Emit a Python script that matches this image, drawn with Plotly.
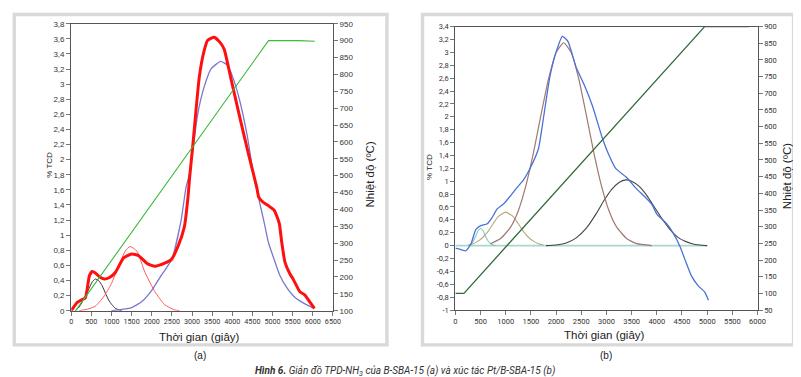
import plotly.graph_objects as go

W, H = 801, 377

# ---------------- Panel (a) data ----------------
a_red_t = [0, 150, 250, 350, 400, 450, 520, 600, 700, 820, 950, 1100, 1300, 1500, 1670, 1900, 2080, 2320, 2490,
           2650, 2810, 2900, 2940, 3020, 3180, 3300, 3390, 3550, 3700, 3800, 3960, 4200, 4410, 4610, 4660, 4780,
           4900, 5040, 5100, 5170, 5230, 5310, 5430, 5510, 5680, 5800, 5920, 6040]
a_red_v = [0, 0.11, 0.14, 0.17, 0.30, 0.46, 0.52, 0.50, 0.45, 0.42, 0.44, 0.51, 0.70, 0.75, 0.73, 0.62, 0.59, 0.63, 0.68,
           0.85, 1.11, 1.50, 1.76, 2.19, 3.09, 3.44, 3.58, 3.62, 3.55, 3.46, 3.09, 2.53, 2.06, 1.63, 1.50, 1.43,
           1.39, 1.33, 1.26, 1.15, 0.90, 0.64, 0.49, 0.42, 0.25, 0.21, 0.12, 0.03]

a_blue_t = [1000, 1180, 1500, 1750, 2000, 2240, 2500, 2730, 2850, 2940, 3060, 3140, 3300, 3470, 3710, 3880, 4040,
            4200, 4370, 4530, 4650, 4780, 4900, 5040, 5180, 5350, 5590, 5840, 6040]
a_blue_v = [0, 0.01, 0.04, 0.12, 0.27, 0.47, 0.68, 1.20, 1.63, 1.82, 2.28, 2.60, 2.96, 3.20, 3.30, 3.25, 3.05,
            2.75, 2.32, 1.80, 1.50, 1.20, 0.90, 0.68, 0.47, 0.31, 0.16, 0.08, 0.03]

a_pk2_t = [200, 400, 600, 800, 930, 1000, 1180, 1340, 1460, 1630, 1830, 2080, 2320, 2570, 2690]
a_pk2_v = [0, 0.02, 0.06, 0.18, 0.29, 0.36, 0.59, 0.79, 0.85, 0.79, 0.51, 0.25, 0.08, 0.01, 0]

a_pk1_t = [100, 200, 320, 440, 520, 600, 680, 770, 850, 930, 1010, 1100, 1250]
a_pk1_v = [0, 0.05, 0.16, 0.29, 0.38, 0.42, 0.40, 0.33, 0.23, 0.14, 0.08, 0.03, 0]

a_temp_t = [110, 4900, 5650, 6050]
a_temp_v = [100, 900, 900, 898]

# ---------------- Panel (b) data ----------------
b_blue_t = [0, 100, 210, 307, 405, 503, 634, 732, 830, 961, 1092, 1222, 1353, 1484, 1648, 1745, 1876, 2006, 2124,
            2235, 2398, 2562, 2726, 2922, 3053, 3183, 3412, 3575, 3771, 3902, 4000, 4196, 4328, 4458, 4556, 4687,
            4818, 4949, 5026]
b_blue_v = [-0.04, -0.06, -0.08, 0.02, 0.25, 0.31, 0.34, 0.44, 0.57, 0.65, 0.77, 0.90, 1.02, 1.20, 1.50, 1.96, 2.62,
            3.02, 3.25, 3.17, 2.77, 2.49, 2.16, 1.66, 1.40, 1.20, 1.05, 0.90, 0.75, 0.64, 0.49, 0.34, 0.19, -0.01,
            -0.21, -0.47, -0.62, -0.72, -0.85]

b_brown_t = [700, 900, 1100, 1250, 1400, 1550, 1700, 1850, 2000, 2150, 2300, 2450, 2600, 2750, 2900, 3050, 3200,
             3400, 3600, 3900]
b_brown_v = [0.03, 0.11, 0.29, 0.54, 0.93, 1.44, 2.03, 2.59, 3.00, 3.15, 3.00, 2.59, 2.03, 1.44, 0.93, 0.54, 0.29,
             0.11, 0.03, 0.0]

b_tan_t = [250, 350, 450, 550, 650, 750, 850, 1000, 1150, 1250, 1350, 1450, 1550, 1650, 1750]
b_tan_v = [0.01, 0.03, 0.07, 0.13, 0.22, 0.34, 0.45, 0.52, 0.45, 0.34, 0.22, 0.13, 0.07, 0.03, 0.01]

b_teal_t = [250, 330, 400, 450, 500, 550, 600, 670, 750, 800]
b_teal_v = [0.0, 0.04, 0.14, 0.23, 0.27, 0.23, 0.14, 0.05, 0.01, 0.0]

b_gray_t = [1800, 2000, 2200, 2400, 2600, 2800, 2950, 3100, 3250, 3380, 3500, 3650, 3800, 3950, 4100, 4250, 4400,
            4550, 4700, 4850, 5000]
b_gray_v = [0, 0.01, 0.04, 0.12, 0.27, 0.50, 0.70, 0.87, 0.98, 1.02, 1.00, 0.92, 0.78, 0.60, 0.42, 0.26, 0.14,
            0.07, 0.03, 0.01, 0.0]

b_base_t = [0, 5000]
b_base_v = [0, 0]

b_temp_t = [0, 170, 4950, 5830]
b_temp_v = [100, 100, 900, 900]

# ---------------- Tick labels ----------------
a_x_ticks = list(range(0, 6501, 500))
a_x_text = [str(v) for v in a_x_ticks]
a_y_ticks = [round(i * 0.2, 1) for i in range(0, 20)]
a_y_text = [("%g" % v).replace(".", ",") for v in a_y_ticks]
a_y2_ticks = list(range(100, 951, 50))
a_y2_text = [str(v) for v in a_y2_ticks]

b_x_ticks = list(range(0, 6001, 500))
b_x_text = [str(v) for v in b_x_ticks]
b_y_ticks = [round(-1 + i * 0.2, 1) for i in range(0, 23)]
b_y_text = [("%g" % v).replace(".", ",") for v in b_y_ticks]
b_y2_ticks = list(range(50, 901, 50))
b_y2_text = [str(v) for v in b_y2_ticks]

NARROW = "Liberation Sans Narrow, Roboto, sans-serif"
SANS = "Liberation Sans, Arial, sans-serif"

fig = go.Figure()

def add(t, v, color, width, xa, ya, shape="spline"):
    fig.add_trace(go.Scatter(x=t, y=v, mode="lines", xaxis=xa, yaxis=ya,
                             line=dict(color=color, width=width, shape=shape, smoothing=0.5),
                             showlegend=False, hoverinfo="skip"))

# panel (a)
add(a_temp_t, a_temp_v, "#3cb83c", 1.1, "x", "y2", "linear")
add(a_pk1_t, a_pk1_v, "#333333", 1.0, "x", "y")
add(a_pk2_t, a_pk2_v, "#ff5a5a", 1.0, "x", "y")
add(a_blue_t, a_blue_v, "#7878cc", 1.3, "x", "y")
add(a_red_t, a_red_v, "#ff1010", 3.0, "x", "y")

# panel (b)
add(b_base_t, b_base_v, "#a8d8d0", 1.6, "x2", "y3", "linear")
add(b_temp_t, b_temp_v, "#2f6b3a", 1.3, "x2", "y4", "linear")
add(b_teal_t, b_teal_v, "#82cbbf", 1.1, "x2", "y3")
add(b_tan_t, b_tan_v, "#b5a97e", 1.1, "x2", "y3")
add(b_gray_t, b_gray_v, "#444444", 1.1, "x2", "y3")
add(b_brown_t, b_brown_v, "#a07870", 1.2, "x2", "y3")
add(b_blue_t, b_blue_v, "#4a72d4", 1.3, "x2", "y3")

tickfont_y = dict(family=SANS, size=8, color="#333333")

def xax(domain, rng, tv, tt, anchor, size):
    return dict(domain=domain, range=rng, anchor=anchor, tickvals=tv, ticktext=tt, tickangle=0,
                ticks="outside", ticklen=4, tickcolor="#777777",
                tickfont=dict(family=NARROW, size=size, color="#333333"),
                showline=True, linecolor="#555555", linewidth=1.2, mirror=True,
                showgrid=False, zeroline=False, fixedrange=True)

def yax(domain, rng, tv, tt, anchor, side="left", overlaying=None, font=tickfont_y):
    d = dict(range=rng, anchor=anchor, tickvals=tv, ticktext=tt, side=side,
             ticks="outside", ticklen=4, tickcolor="#777777", tickfont=font,
             showline=True, linecolor="#555555", linewidth=1.2, mirror=(side == "left"),
             showgrid=False, zeroline=False, fixedrange=True)
    if overlaying:
        d["overlaying"] = overlaying
    else:
        d["domain"] = domain
    return d

ya_dom = [1 - 306 / H, 1 - 12 / H]
yb_dom = [1 - 305.3 / H, 1 - 15 / H]

fig.update_layout(
    width=W, height=H,
    margin=dict(l=0, r=0, t=0, b=0),
    paper_bgcolor="white", plot_bgcolor="white",
    xaxis=xax([62 / W, 327 / W], [0, 6500], a_x_ticks, a_x_text, "y", 7.2),
    yaxis=yax(ya_dom, [0, 3.8], a_y_ticks, a_y_text, "x"),
    yaxis2=yax(None, [100, 950], a_y2_ticks, a_y2_text, "x", side="right", overlaying="y"),
    xaxis2=xax([451 / W, 757 / W], [0, 6000], b_x_ticks, b_x_text, "y3", 7.5),
    yaxis3=yax(yb_dom, [-1, 3.4], b_y_ticks, b_y_text, "x2", font=dict(family=NARROW, size=7.5, color="#333333")),
    yaxis4=yax(None, [50, 900], b_y2_ticks, b_y2_text, "x2", side="right", overlaying="y3",
               font=dict(family=NARROW, size=7.5, color="#333333")),
)

# grey panel frames
for x0, x1 in [(4.3, 381.7), (417.7, 793.5)]:
    fig.add_shape(type="rect", xref="paper", yref="paper", layer="below",
                  x0=x0 / W, x1=x1 / W, y0=1 - 341 / H, y1=1 - 2.5 / H,
                  line=dict(color="#d9d9d9", width=3.4), fillcolor="rgba(0,0,0,0)")

def ann(text, x, y, size, angle=0, family=SANS, color="#222222"):
    fig.add_annotation(text=text, x=x / W, y=1 - y / H, xref="paper", yref="paper",
                       showarrow=False, xanchor="center", yanchor="middle", textangle=angle,
                       font=dict(family=family, size=size, color=color))

ann("% TCD", 40, 157, 8, -90)
ann("% TCD", 425, 159, 8, -90)
ann("Nhiệt độ (ºC)", 365, 166, 11.5, -90)
ann("Nhiệt độ (ºC)", 787, 168, 11.5, -90)
ann("Thời gian (giây)", 192, 333, 11.5)
ann("Thời gian (giây)", 602, 331, 11.5)
ann("(a)", 192, 352, 10)
ann("(b)", 604, 352, 10)
ann("<b><i>Hình 6.</i></b><i> Giản đồ TPD-NH<sub>3</sub> của B-SBA-15 (a) và xúc tác Pt/B-SBA-15 (b)</i>",
    400, 368, 10, family=NARROW, color="#333333")

fig.write_html("out.html")
